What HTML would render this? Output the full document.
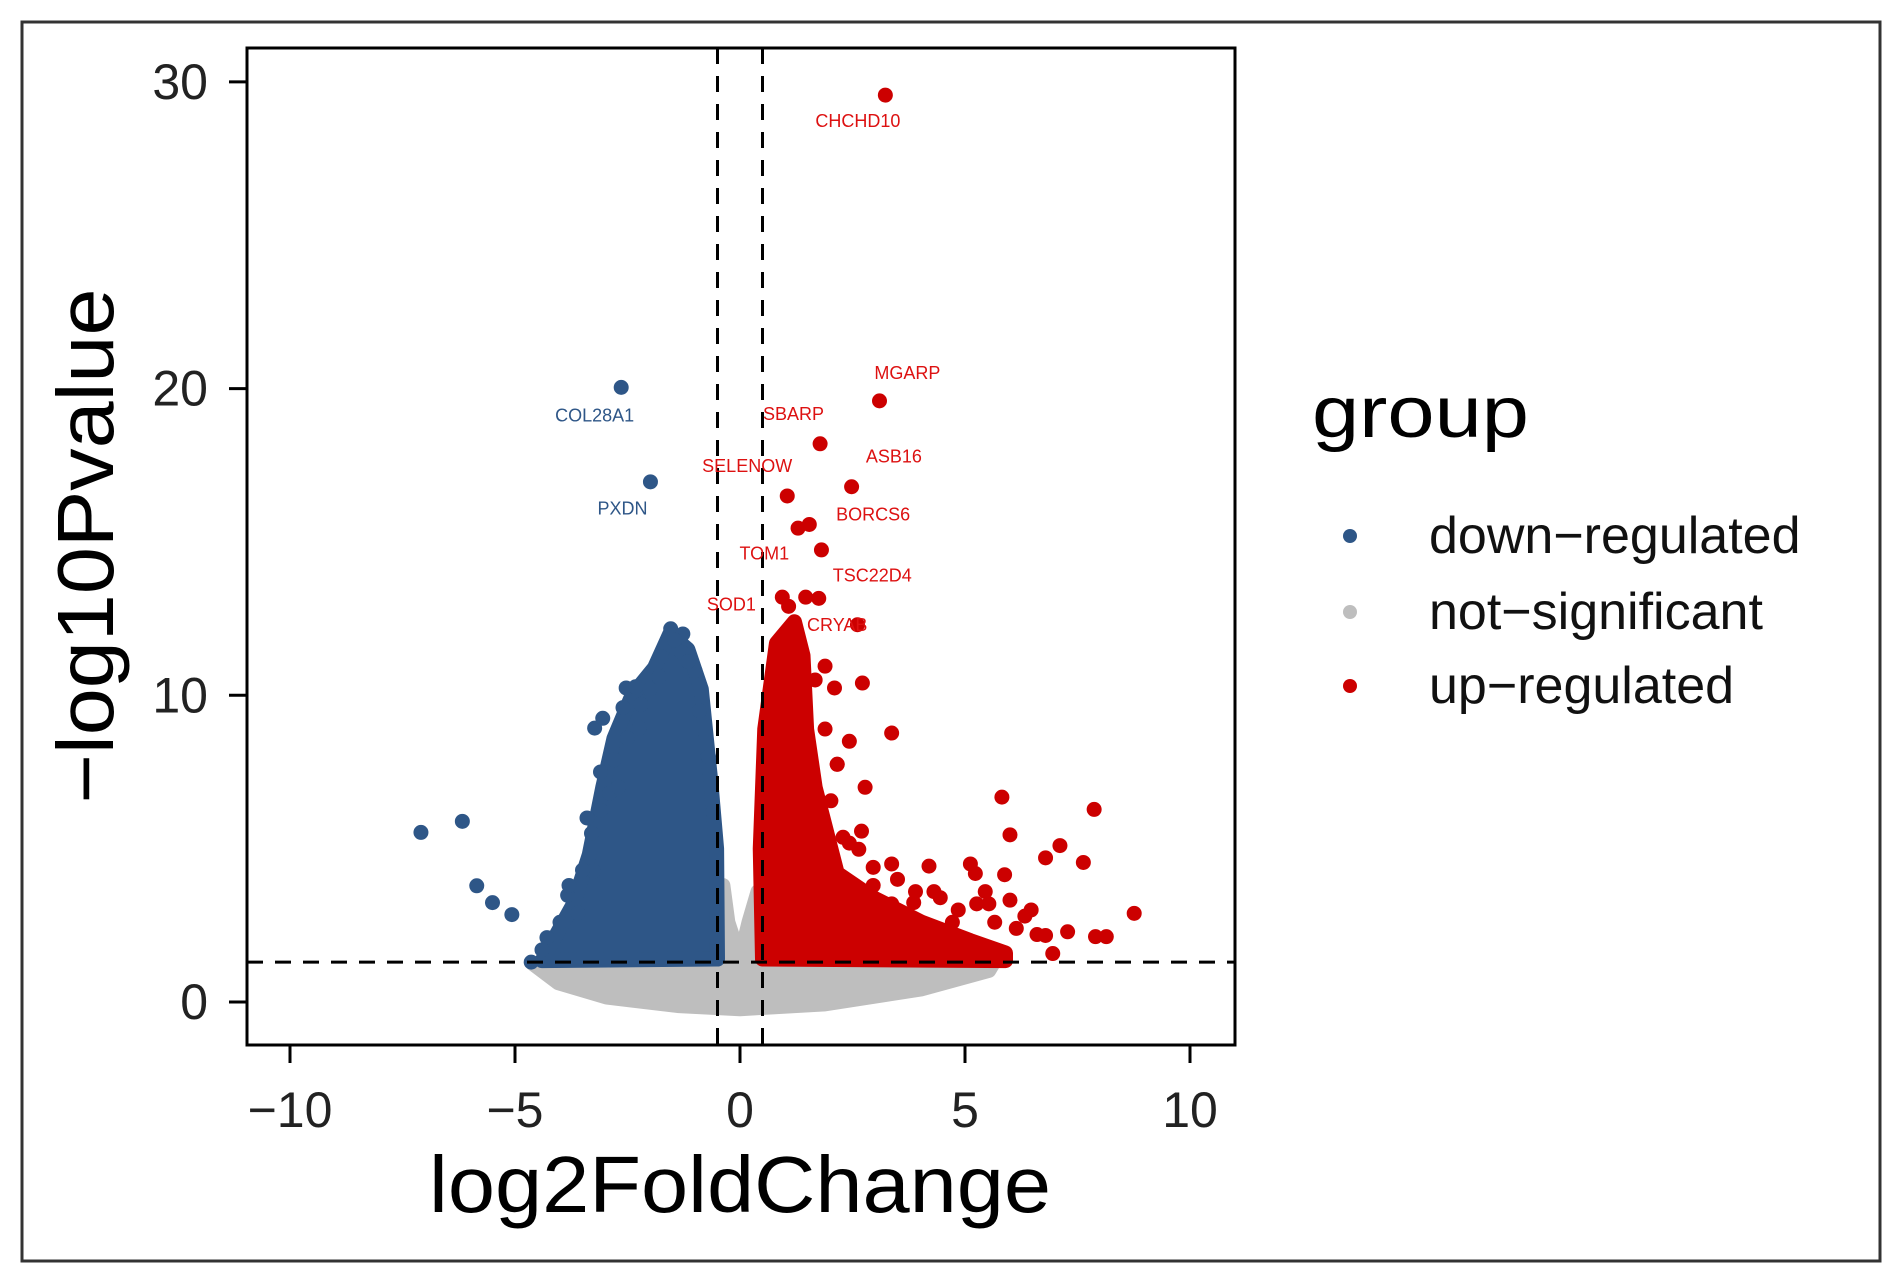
<!DOCTYPE html>
<html><head><meta charset="utf-8"><style>
html,body{margin:0;padding:0;background:#fff;width:1892px;height:1280px;overflow:hidden}
svg{display:block;font-family:"Liberation Sans",Arial,sans-serif}
</style></head><body>
<svg id="chart" width="1892" height="1280" viewBox="0 0 1892 1280">
<rect x="22" y="22" width="1858" height="1239" fill="#fff" stroke="#333" stroke-width="3"/>
</svg>
<script>
// ---- data ----
const xTicks = [-10, -5, 0, 5, 10];
const xTickLabels = ["\u221210", "\u22125", "0", "5", "10"];
const yTicks = [0, 10, 20, 30];
const yTickLabels = ["0", "10", "20", "30"];
const fcCut = [-0.5, 0.5];
const pCut = 1.3;
// dense-region envelopes (log2FC, -log10P)
const grayEnvX = [-4.6,-4.04,-2.96,-1.35,0,1.89,4.04,5.53,5.66,0.54,0.4,0.2,0,-0.27,-0.38,-0.54];
const grayEnvY = [1.25,0.63,0.16,-0.12,-0.22,-0.06,0.43,1.03,1.35,1.35,3.6,2.6,1.4,2.6,3.8,1.35];
const downEnvX = [-4.4,-3.7,-3.35,-3.05,-2.8,-2.4,-1.9,-1.56,-1.16,-0.86,-0.65,-0.52,-0.5];
const downEnvY = [1.35,3.2,4.8,7.0,8.6,10.0,10.9,12.0,11.5,10.2,7.2,5.0,1.4];
const upEnvX = [0.5,0.45,0.55,0.81,1.21,1.4,1.48,1.67,2.16,2.96,4.04,5.12,5.9,5.9];
const upEnvY = [1.4,5.0,8.9,11.7,12.4,11.3,8.9,7.0,4.2,3.4,2.6,2.0,1.6,1.35];
// individual points
const downX = [-7.09,-6.17,-5.85,-5.5,-5.07,-4.29,-3.83,-4.64,-3.23,-3.05,-2.53,-2.32,-3.1,-3.26,-2.64,-1.99,-1.54,-1.27,-1.0,-1.75,-2.24,
  -3.1,-2.9,-3.3,-3.5,-3.8,-4.0,-4.4,-3.6,-2.7,-2.5,-2.2,-1.8,-1.3,-0.9,-0.7,-0.6,-2.0,-2.6,-1.45,-1.15,-2.8,-3.4];
const downY = [5.53,5.89,3.79,3.24,2.85,2.1,3.48,1.3,8.93,9.25,10.24,10.28,6.25,4.27,20.04,16.96,12.17,12.0,10.8,11.26,8.93,
  7.5,6.8,5.5,4.3,3.8,2.6,1.7,2.9,7.0,8.6,9.7,10.6,11.4,9.5,8.0,6.2,10.2,9.6,11.8,11.1,7.9,6.0];
const upX = [3.23,3.1,1.78,2.48,1.05,1.29,1.54,1.81,0.94,1.08,1.46,1.75,2.61,1.89,2.72,2.1,3.37,2.78,5.82,7.87,6.0,7.11,6.79,7.63,4.2,5.12,5.23,5.88,3.37,3.86,4.31,4.72,5.53,6.0,6.33,8.76,6.79,7.28,7.9,8.14,6.95,3.64,4.04,2.96,2.43,2.7,2.16,2.43,
  1.89,2.16,2.02,2.29,2.64,2.96,3.5,3.37,3.9,4.45,4.85,5.26,5.66,6.14,6.47,6.6,5.45,4.58,2.43,1.89,1.67,1.35];
const upY = [29.57,19.6,18.2,16.8,16.5,15.45,15.57,14.74,13.2,12.9,13.2,13.16,12.3,10.95,10.4,10.24,8.77,7.0,6.68,6.28,5.45,5.1,4.7,4.55,4.43,4.5,4.19,4.15,4.5,3.24,3.6,2.6,3.2,3.32,2.8,2.89,2.17,2.29,2.13,2.13,1.58,2.29,1.8,3.8,5.18,5.57,7.75,8.5,
  8.9,7.75,6.56,5.37,4.98,4.39,4.0,3.2,3.6,3.4,3.0,3.2,2.6,2.4,3.0,2.2,3.6,2.2,3.0,4.98,10.5,11.3];
const geneNames = ["CHCHD10","MGARP","SBARP","ASB16","SELENOW","BORCS6","TOM1","TSC22D4","SOD1","CRYAB","COL28A1","PXDN"];
const geneX = [2.62,3.72,1.19,3.42,0.16,2.96,0.54,2.94,-0.19,2.16,-3.23,-2.61];
const geneY = [28.69,20.47,19.13,17.75,17.43,15.85,14.58,13.87,12.92,12.25,19.09,16.05];
const geneUp = [1,1,1,1,1,1,1,1,1,1,0,0];
const groups = ["down\u2212regulated","not\u2212significant","up\u2212regulated"];
const groupColors = ["#2e5687","#bebebe","#cc0000"];

// ---- axes ----
const X0 = 247, X1 = 1235, Y0 = 48, Y1 = 1045;
function sx(v){ return 740 + v * 45.0; }
function sy(v){ return 1002 - v * 30.67; }
const NS = "http://www.w3.org/2000/svg";
const svg = document.getElementById('chart');
function mk(tag, attrs){
  const e = document.createElementNS(NS, tag);
  for (const k in attrs) e.setAttribute(k, attrs[k]);
  svg.appendChild(e);
  return e;
}
const R = 7.5;
function env(xs, ys, color, name){
  const pts = xs.map((x,i)=>sx(x)+','+sy(ys[i])).join(' ');
  const p = mk('polygon', {points: pts, fill: color, stroke: color, 'stroke-width': 2*R, 'stroke-linejoin': 'round'});
  
  
}
env(grayEnvX, grayEnvY, groupColors[1], 'not-significant-points');
env(downEnvX, downEnvY, groupColors[0], 'down-regulated-cluster');
env(upEnvX, upEnvY, groupColors[2], 'up-regulated-cluster');
downX.forEach((x,i)=>{
  const c = mk('circle', {cx: sx(x), cy: sy(downY[i]), r: R, fill: groupColors[0]});
  
  
});
upX.forEach((x,i)=>{
  const c = mk('circle', {cx: sx(x), cy: sy(upY[i]), r: R, fill: groupColors[2]});
  
  
});
fcCut.forEach(v=>{
  const l = mk('line', {x1: sx(v), x2: sx(v), y1: Y0, y2: Y1, stroke: '#000', 'stroke-width': 3, 'stroke-dasharray': '16,12'});
  
  
});
const hl = mk('line', {x1: X0, x2: X1, y1: sy(pCut), y2: sy(pCut), stroke: '#000', 'stroke-width': 3, 'stroke-dasharray': '16,12'});


geneNames.forEach((g,i)=>{
  const t = mk('text', {x: sx(geneX[i]), y: sy(geneY[i]), 'font-size': 18, 'text-anchor': 'middle', 'dominant-baseline': 'middle', fill: geneUp[i] ? '#dd1111' : '#2e5687'});
  t.textContent = g;
  
  
});
const pb = mk('rect', {x: X0, y: Y0, width: X1-X0, height: Y1-Y0, fill: 'none', stroke: '#000', 'stroke-width': 3});


xTicks.forEach((v,i)=>{
  const tk = mk('line', {x1: sx(v), x2: sx(v), y1: Y1, y2: Y1+18, stroke: '#000', 'stroke-width': 3});
  
  
  const t = mk('text', {x: sx(v), y: 1127, 'font-size': 50, 'text-anchor': 'middle', fill: '#222'});
  t.textContent = xTickLabels[i];
  
  
});
yTicks.forEach((v,i)=>{
  const tk = mk('line', {x1: X0-18, x2: X0, y1: sy(v), y2: sy(v), stroke: '#000', 'stroke-width': 3});
  
  
  const t = mk('text', {x: 208, y: sy(v)+17, 'font-size': 50, 'text-anchor': 'end', fill: '#222'});
  t.textContent = yTickLabels[i];
  
  
});
const xt = mk('text', {x: 740, y: 1212, 'font-size': 80, 'text-anchor': 'middle', textLength: 622, lengthAdjust: 'spacingAndGlyphs', fill: '#000'});
xt.textContent = 'log2FoldChange';


const yt = mk('text', {x: 0, y: 0, 'font-size': 80, 'text-anchor': 'middle', textLength: 515, lengthAdjust: 'spacingAndGlyphs', fill: '#000', transform: 'translate(113,546) rotate(-90)'});
yt.textContent = '\u2212log10Pvalue';


const lg = mk('text', {x: 1312, y: 437, 'font-size': 72, textLength: 217, lengthAdjust: 'spacingAndGlyphs', fill: '#000'});
lg.textContent = 'group';


const legY = [536, 612, 686];
groups.forEach((g,i)=>{
  const c = mk('circle', {cx: 1350, cy: legY[i], r: 7, fill: groupColors[i]});
  
  
  const t = mk('text', {x: 1429, y: legY[i]+17, 'font-size': 52, fill: '#111'});
  t.textContent = g;
  
  
});
</script>
</body></html>
